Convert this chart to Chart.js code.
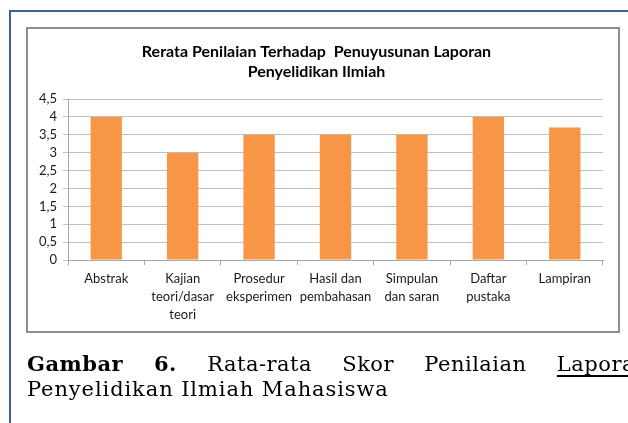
<!DOCTYPE html>
<html>
<head>
<meta charset="utf-8">
<script src="https://cdn.jsdelivr.net/npm/chart.js@4"></script>
<style>
  html, body { margin: 0; padding: 0; background: #fff; width: 628px; height: 423px; overflow: hidden; }
  #frame { position: absolute; left: 9px; top: 10px; width: 640px; height: 430px;
           border-left: 2px solid #3d5f96; border-top: 2px solid #3d5f96; }
  #box { position: absolute; left: 26px; top: 27px; width: 590px; height: 302px;
         border: 2px solid #8e8e8e; }
  #chart { position: absolute; left: 0; top: 0; }
  .cap { position: absolute; left: 27px; font-family: "DejaVu Serif", serif; font-size: 21px;
         letter-spacing: 0.5px; line-height: 25px; color: #000; white-space: nowrap; }
  #cap1 { top: 351px; width: 622px; text-align: justify; text-align-last: justify; white-space: normal; }
  #cap2 { top: 377px; letter-spacing: 0.9px; }
  u { text-underline-offset: 4px; }
</style>
</head>
<body>
<div id="frame"></div>
<div id="box"></div>
<canvas id="chart" width="628" height="423"></canvas>
<div class="cap" id="cap1"><b>Gambar 6.</b> Rata-rata Skor Penilaian <u>Laporan</u></div>
<div class="cap" id="cap2">Penyelidikan Ilmiah Mahasiswa</div>
<script>
const categories = [
  "Abstrak",
  ["Kajian", "teori/dasar", "teori"],
  ["Prosedur", "eksperimen"],
  ["Hasil dan", "pembahasan"],
  ["Simpulan", "dan saran"],
  ["Daftar", "pustaka"],
  "Lampiran"
];
const scores = [4, 3, 3.5, 3.5, 3.5, 4, 3.7];
const yTicks = [0, 0.5, 1, 1.5, 2, 2.5, 3, 3.5, 4, 4.5];
const chartTitle = ["Rerata Penilaian Terhadap  Penuyusunan Laporan", "Penyelidikan Ilmiah"];

const font = "Lato, 'Open Sans', sans-serif";

new Chart(document.getElementById("chart"), {
  type: "bar",
  data: {
    labels: categories,
    datasets: [{
      label: "Rerata",
      data: scores,
      backgroundColor: "#f79646",
      borderWidth: 0,
      barPercentage: 0.41,
      categoryPercentage: 1
    }]
  },
  options: {
    responsive: false,
    animation: false,
    layout: { padding: { left: 30, right: 25, top: 42, bottom: 93 } },
    plugins: {
      legend: { display: false },
      tooltip: { enabled: false },
      title: {
        display: true,
        text: chartTitle,
        color: "#000",
        font: { family: font, size: 16, weight: "bold", lineHeight: 1.25 },
        padding: { top: 0, bottom: 17 }
      }
    },
    scales: {
      x: {
        grid: { drawOnChartArea: false, drawTicks: true, tickLength: 5, color: "#a6a6a6" },
        border: { color: "#a6a6a6" },
        ticks: {
          color: "#1a1a1a",
          font: { family: font, size: 13, lineHeight: 1.385 },
          padding: 5,
          maxRotation: 0,
          autoSkip: false
        },
        afterFit: s => { s.height = 70; }
      },
      y: {
        min: 0,
        max: 4.5,
        afterBuildTicks: s => { s.ticks = yTicks.map(v => ({ value: v })); },
        grid: { color: "#bfbfbf", tickLength: 5 },
        border: { color: "#a6a6a6" },
        ticks: {
          color: "#1a1a1a",
          font: { family: font, size: 13 },
          padding: 6,
          autoSkip: false,
          callback: v => String(v).replace(".", ",")
        },
        afterFit: s => { s.width = 38; }
      }
    }
  }
});
</script>
</body>
</html>
